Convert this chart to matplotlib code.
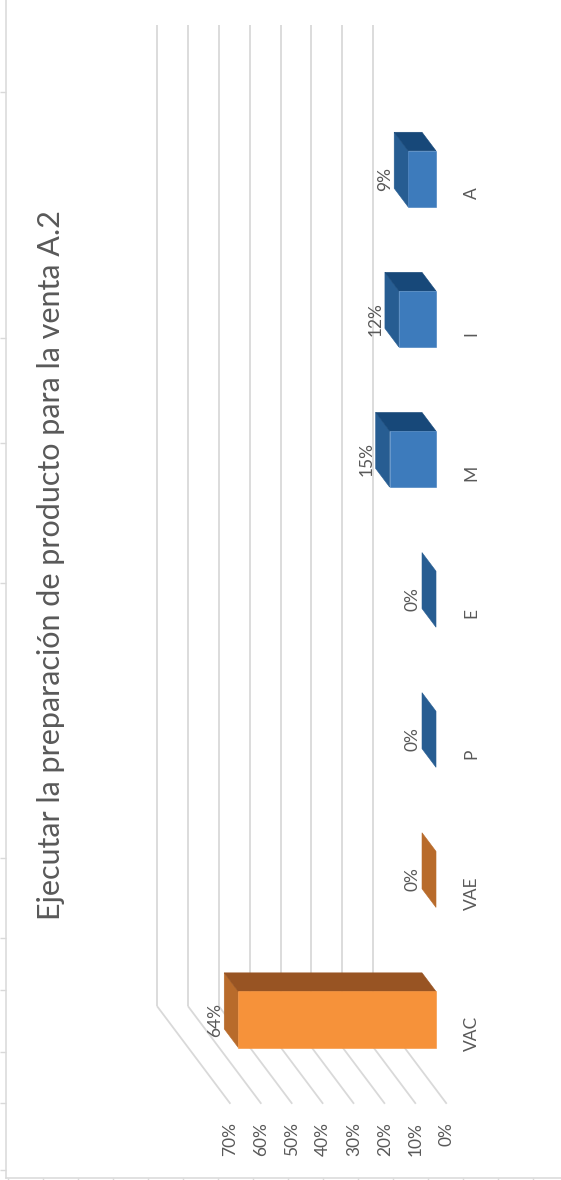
import matplotlib
matplotlib.use("Agg")
import matplotlib.pyplot as plt
from matplotlib.patches import Polygon

# ---- data -------------------------------------------------------------
categories = ["VAC", "VAE", "P", "E", "M", "I", "A"]
values = [64, 0, 0, 0, 15, 12, 9]          # percent
series_group = ["orange", "orange", "blue", "blue", "blue", "blue", "blue"]
value_ticks = [0, 10, 20, 30, 40, 50, 60, 70]
tick_labels = ["0%", "10%", "20%", "30%", "40%", "50%", "60%", "70%"]
title = "Ejecutar la preparación de producto para la venta A.2"

# decorative frame marks around the chart area (pixel rows / columns)
frame_marks_left = [91.7, 338.3, 443.3, 582.7, 858.3, 938.3, 990, 1051.7, 1103.3, 1170]
frame_marks_bottom = [7.9 + 35 * i for i in range(16)]

# ---- style --------------------------------------------------------------
face_colors = {
    "orange": {"front": "#F6923A", "top": "#B86B2B", "side": "#985423"},
    "blue": {"front": "#3D7BBC", "top": "#275D92", "side": "#174879"},
}
grid_color = "#D9D9D9"
text_color = "#595959"
font = "Lato"

W, H, DPI = 561, 1180, 100
fig = plt.figure(figsize=(W / DPI, H / DPI), dpi=DPI)
fig.patch.set_facecolor("white")

# frame with small marks on the left and bottom edges
fx0, fy0 = 5.7 / W, 2.0 / H
axf = fig.add_axes([fx0, fy0, 1 - fx0, 1 - fy0], zorder=0)
axf.set_xlim(5.7, W)
axf.set_ylim(H - 2.0, 0)
axf.patch.set_alpha(0)
for s in ("top", "right"):
    axf.spines[s].set_visible(False)
for s in ("left", "bottom"):
    axf.spines[s].set_color(grid_color)
    axf.spines[s].set_linewidth(1.1)
axf.set_yticks(frame_marks_left)
axf.set_xticks(frame_marks_bottom)
axf.tick_params(axis="y", direction="out", length=4.2, width=1.0, color=grid_color,
                labelleft=False)
axf.tick_params(axis="x", direction="out", length=1.5, width=1.0, color=grid_color,
                labelbottom=False)

# main chart: x = value (drawn right-to-left), y = category position
ax = fig.add_axes([0, 0, 1, 1], zorder=1)
ax.patch.set_alpha(0)
ax.set_xlim(141.1, -40.45)
ax.set_ylim(-1.1456, 7.277)
ax.axis("off")

# oblique depth vector (per unit of bar depth)
DX, DY = 4.53, 0.133
WALL = 4.48      # back wall depth
FRONT = -0.764   # front edge of the floor / side wall
BAR_W = 0.4
c_lo, c_hi = -0.5, len(categories) - 0.5

def shift(v, c, d):
    return (v + DX * d, c + DY * d)

# back wall and side wall gridlines
for v in value_ticks:
    x0, y0 = shift(v, c_lo, WALL)
    x1, y1 = shift(v, c_hi, WALL)
    ax.plot([x0, x1], [y0, y1], color=grid_color, lw=1.3, zorder=1,
            solid_capstyle="butt")
    xf, yf = shift(v, c_lo, FRONT)
    ax.plot([xf, x0], [yf, y0], color=grid_color, lw=1.3, zorder=1,
            solid_capstyle="butt")

# value axis labels at the front of the side wall
for v, lab in zip(value_ticks, tick_labels):
    xf, yf = shift(v, c_lo, FRONT)
    ax.annotate(lab, xy=(xf, yf), xytext=(0, -13), textcoords="offset points",
                rotation=90, ha="center", va="top", fontsize=12.5,
                color=text_color, family=font)

# 3D bars
for i, (cat, val, grp) in enumerate(zip(categories, values, series_group)):
    cols = face_colors[grp]
    c0, c1 = i - BAR_W / 2, i + BAR_W / 2
    top = [(val, c0), (val, c1), shift(val, c1, 1), shift(val, c0, 1)]
    ax.add_patch(Polygon(top, closed=True, fc=cols["top"], ec=cols["top"],
                         lw=0.4, zorder=3))
    if val > 0:
        side = [(0, c1), (val, c1), shift(val, c1, 1), shift(0, c1, 1)]
        ax.add_patch(Polygon(side, closed=True, fc=cols["side"], ec=cols["side"],
                             lw=0.4, zorder=3))
        front = [(0, c0), (val, c0), (val, c1), (0, c1)]
        ax.add_patch(Polygon(front, closed=True, fc=cols["front"], ec=cols["front"],
                             lw=0.4, zorder=4))
    # value label beside the bar top
    ax.annotate(f"{val}%", xy=(val, i), xytext=(-16.6, 0), textcoords="offset points",
                rotation=90, ha="center", va="center", fontsize=12.5,
                color=text_color, family=font, zorder=5)
    # category label in front of the floor
    xf, yf = shift(0, i, FRONT)
    ax.annotate(cat, xy=(xf, yf), xytext=(18, 0), textcoords="offset points",
                rotation=90, ha="center", va="center", fontsize=12.5,
                color=text_color, family=font)

# title
fig.text(51 / W, 1 - 565 / H, title, rotation=90, ha="center", va="center",
         fontsize=22, color=text_color, family=font)

fig.savefig("out.png", dpi=DPI)
